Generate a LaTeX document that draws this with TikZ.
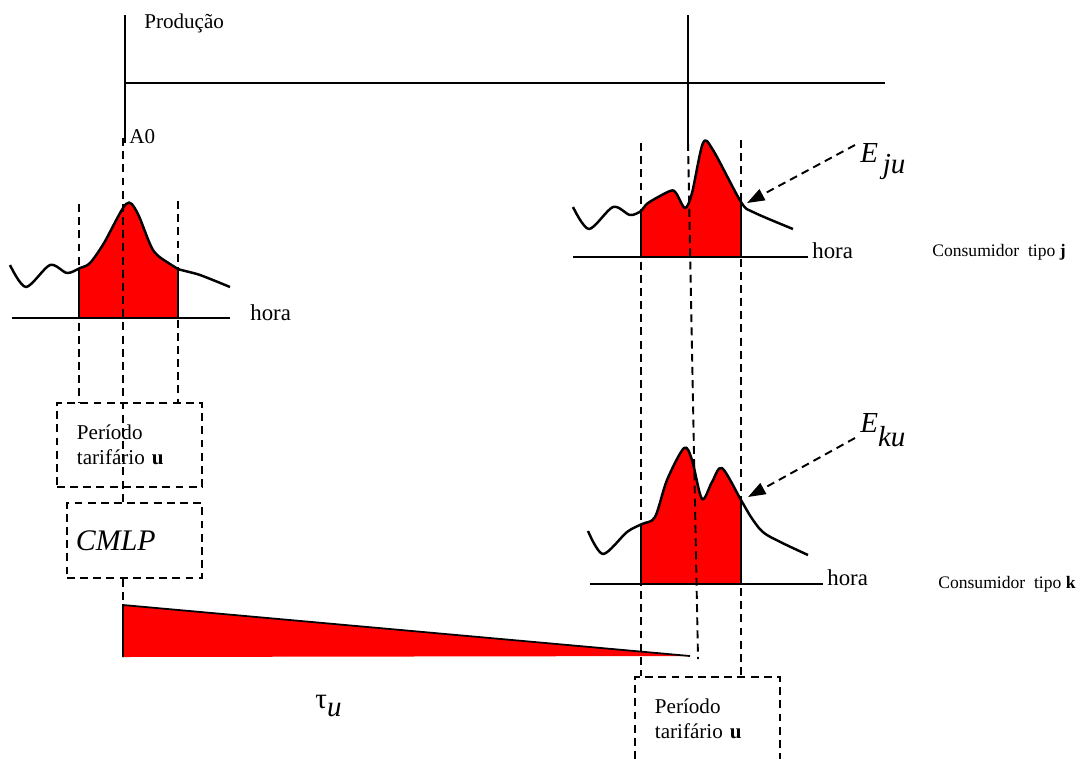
\documentclass[tikz,border=0pt]{standalone}
\usepackage{fontspec}
\setmainfont{Liberation Serif}
\usetikzlibrary{arrows.meta}

\begin{document}
\begin{tikzpicture}[x=0.02cm,y=-0.02cm,
  guide/.style={line width=1.1pt,dash pattern=on 4.5pt off 3pt},
  axis/.style={line width=1pt},
  curve/.style={line width=1.4pt,line join=round},
  tarbox/.style={draw,line width=1.1pt,dash pattern=on 4.5pt off 3pt,anchor=north west,
    minimum width=2.9cm,minimum height=1.68cm,text width=2.1cm,inner xsep=0.4cm,
    align=left,font=\fontsize{12}{14.2}\selectfont},
  cmlpbox/.style={draw,line width=1.1pt,dash pattern=on 4.5pt off 3pt,anchor=north west,
    minimum width=2.7cm,minimum height=1.5cm,text width=2.34cm,inner xsep=0.18cm,
    align=left,font=\fontsize{17}{19}\selectfont\itshape},
  lbl/.style={anchor=base west,inner sep=0pt,font=\fontsize{12}{14}\selectfont},
  cons/.style={anchor=base west,inner sep=0pt,font=\fontsize{10}{12}\selectfont},
  hr/.style={anchor=base west,inner sep=0pt,font=\fontsize{13}{15}\selectfont},
  big/.style={anchor=base west,inner sep=0pt,font=\fontsize{16.5}{18}\selectfont}]
\useasboundingbox (0,0) rectangle (1088,758);
\clip (0,0) rectangle (1088,758);

% production axes
\coordinate (P0) at (125,15);
\coordinate (P1) at (125,143);
\coordinate (H0) at (125,83);
\coordinate (H1) at (885,83);
\coordinate (R0) at (688,15);
\coordinate (R1) at (688,143);
\draw[axis] (P0) -- (P1);
\draw[axis] (H0) -- (H1);
\draw[axis] (R0) -- (R1);
\node[lbl] (prod) at (144,28) {Produção};
\node[lbl] (a0) at (129,143) {A0};

% left load curve
\begin{scope}
\clip (79,150) rectangle (178,318);
\fill[red] plot[smooth] coordinates {(10,265) (26,287) (50,265) (67,273) (80,268) (90,263) (104,243) (126,204) (137,212) (153,250) (170,264) (178,269) (200,275) (230,287)} -- (230,318) -- (10,318) -- cycle;
\end{scope}
\draw[curve] plot[smooth] coordinates {(10,265) (26,287) (50,265) (67,273) (80,268) (90,263) (104,243) (126,204) (137,212) (153,250) (170,264) (178,269) (200,275) (230,287)};
\draw[axis] (79,268) -- (79,318);
\draw[axis] (178,269) -- (178,318);
\draw[axis] (12,318) -- (230,318);
\node[hr] (hora1) at (250,320) {hora};

% left boxes
\node[tarbox] (per1) at (56,402) {Período\\tarifário \textbf{u}};
\node[cmlpbox] (cmlp) at (66,502) {CMLP};
\coordinate (L1) at (79,204);
\coordinate (L2) at (178,201);
\coordinate (M0) at (123,138);
\draw[guide] (L1) -- (L1 |- per1.north);
\draw[guide] (L2) -- (L2 |- per1.north);
\draw[guide] (M0) -- (M0 |- cmlp.north);

% tau triangle
\coordinate (T1) at (123,605);
\coordinate (T2) at (123,657);
\coordinate (T3) at (690,656);
\draw[guide] (M0 |- cmlp.south) -- (T1);
\fill[red] (T1) -- (T3) -- (T2) -- cycle;
\draw[axis] (T2) -- (T1) -- (T3);
\node[big] (tau) at (315,708) {τ\raisebox{-5pt}{\textit{u}}};

% consumer j
\begin{scope}
\clip (641,100) rectangle (741,257);
\fill[red] plot[smooth] coordinates {(573,207) (589,229) (613,207) (630,215) (641,211) (648,203) (670,191) (676,193) (685,208) (692,193) (703,143) (713,150) (741,202) (753,212) (793,229)} -- (793,257) -- (573,257) -- cycle;
\end{scope}
\draw[curve] plot[smooth] coordinates {(573,207) (589,229) (613,207) (630,215) (641,211) (648,203) (670,191) (676,193) (685,208) (692,193) (703,143) (713,150) (741,202) (753,212) (793,229)};
\draw[axis] (641,211) -- (641,257);
\draw[axis] (741,202) -- (741,257);
\draw[axis] (573,257) -- (808,257);
\node[hr] (hora2) at (812,258) {hora};
\node[cons] (consj) at (932,256) {Consumidor~~tipo \textbf{j}};

% consumer k
\begin{scope}
\clip (641,400) rectangle (741,584);
\fill[red] plot[smooth] coordinates {(588,531) (603,554) (627,532) (642,524) (655,517) (667,480) (684,448) (692,460) (702,499) (712,482) (722,468) (741,500) (753,520) (767,535) (808,555)} -- (808,584) -- (588,584) -- cycle;
\end{scope}
\draw[curve] plot[smooth] coordinates {(588,531) (603,554) (627,532) (642,524) (655,517) (667,480) (684,448) (692,460) (702,499) (712,482) (722,468) (741,500) (753,520) (767,535) (808,555)};
\draw[axis] (641,524) -- (641,584);
\draw[axis] (741,500) -- (741,584);
\draw[axis] (590,584) -- (823,584);
\node[hr] (hora3) at (827,585) {hora};
\node[cons] (consk) at (938,588) {Consumidor~~tipo \textbf{k}};

% right period
\node[tarbox] (per2) at (634,676) {Período\\tarifário \textbf{u}};
\coordinate (J1) at (641,143);
\coordinate (J2) at (741,140);
\coordinate (J3) at (698,659);
\draw[guide] (J1) -- (J1 |- per2.north);
\draw[guide] (J2) -- (J2 |- per2.north);
\draw[guide] (R1) -- (J3);

% energy labels
\node[big] (Eju) at (860,162) {\textit{E}\raisebox{-6.5pt}{\textit{\,ju}}};
\node[big] (Eku) at (860,432) {\textit{E}\raisebox{-8.5pt}{\textit{ku}}};
\coordinate (Eju0) at (855,145);
\coordinate (Eju1) at (747,203);
\coordinate (Eku0) at (855,438);
\coordinate (Eku1) at (748,497);
\draw[guide,-{Triangle[length=10pt,width=7pt]}] (Eju0) -- (Eju1);
\draw[guide,-{Triangle[length=10pt,width=7pt]}] (Eku0) -- (Eku1);
\end{tikzpicture}
\end{document}
